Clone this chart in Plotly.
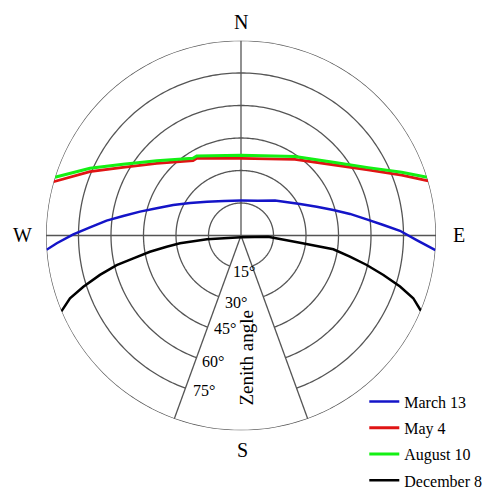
import numpy as np
import plotly.graph_objects as go

# ---- data: sun paths (azimuth deg clockwise from N, zenith angle deg) ----
mar_az = [265.8, 267.6, 270.4, 273.1, 276.3, 279.4, 283.3, 287.9, 294.2, 302.5, 314.8, 333.8,
          0.0, 26.0, 44.3, 61.9, 69.2, 74.6, 78.8, 82.7, 85.8, 88.3, 91.5, 94.3]
mar_zen = [90.0, 85.1, 77.4, 69.8, 62.4, 55.1, 47.9, 40.9, 34.3, 27.9, 22.1, 17.8,
           16.1, 17.9, 22.5, 30.9, 37.4, 44.2, 51.3, 58.5, 65.9, 73.4, 81.1, 90.0]

may_az = [286.0, 292.9, 300.0, 310.6, 327.3, 330.2, 0.0, 35.3, 53.1, 62.7, 69.4, 73.7]
may_zen = [90.0, 75.7, 62.9, 51.2, 41.0, 41.1, 35.6, 43.1, 54.2, 66.0, 79.2, 90.0]

aug_az = [287.4, 294.0, 301.1, 311.6, 328.1, 330.9, 0.0, 34.4, 52.2, 61.9, 68.5, 72.6]
aug_zen = [90.0, 76.3, 63.6, 52.0, 42.0, 42.0, 37.0, 44.2, 54.9, 66.5, 79.7, 90.0]

dec_az = [247.1, 249.8, 252.0, 254.4, 256.6, 258.0, 259.9, 261.4, 262.7, 263.6, 180.0,
          92.5, 97.0, 98.5, 101.0, 103.2, 105.5, 107.8, 110.0, 112.7]
dec_zen = [90.0, 84.1, 76.5, 67.6, 59.0, 50.8, 42.7, 34.7, 28.4, 15.8, 0.8,
           12.5, 27.4, 43.1, 51.2, 59.6, 68.2, 77.1, 84.6, 90.0]

series_names = ["March 13", "May 4", "August 10", "December 8"]
series_colors = ["#1414c8", "#e01414", "#14f014", "#000000"]

ring_zeniths = [15, 30, 45, 60, 75]
ring_labels = ["15°", "30°", "45°", "60°", "75°"]
directions = ["N", "S", "W", "E"]
wedge_half = 20  # degrees either side of south left open for labels

GRID = "#555555"
FONT = "Liberation Serif, Times New Roman, serif"

fig = go.Figure()

# zenith rings, cut inside the southern label wedge
arc = np.arange(180 + wedge_half, 540 - wedge_half + 0.5, 1.0)
for z in ring_zeniths:
    fig.add_trace(go.Scatterpolar(r=[z] * len(arc), theta=arc, mode="lines",
                                  line=dict(color=GRID, width=1.3),
                                  showlegend=False, hoverinfo="skip"))
# horizon circle
full = np.arange(0, 361, 1.0)
fig.add_trace(go.Scatterpolar(r=[90] * len(full), theta=full, mode="lines",
                              line=dict(color=GRID, width=1.3),
                              showlegend=False, hoverinfo="skip"))
# N spoke, W-E diameter, wedge edges
fig.add_trace(go.Scatterpolar(r=[0, 90], theta=[0, 0], mode="lines",
                              line=dict(color=GRID, width=1.3), showlegend=False, hoverinfo="skip"))
fig.add_trace(go.Scatterpolar(r=[90, 0, 90], theta=[270, 0, 90], mode="lines",
                              line=dict(color=GRID, width=1.3), showlegend=False, hoverinfo="skip"))
for t in (180 - wedge_half, 180 + wedge_half):
    fig.add_trace(go.Scatterpolar(r=[0, 90], theta=[t, t], mode="lines",
                                  line=dict(color=GRID, width=1.3), showlegend=False, hoverinfo="skip"))

# sun paths
for name, col, az, zen, w in zip(series_names, series_colors,
                                 [mar_az, may_az, aug_az, dec_az],
                                 [mar_zen, may_zen, aug_zen, dec_zen],
                                 [2.5, 2.8, 3.0, 2.5]):
    fig.add_trace(go.Scatterpolar(r=zen, theta=az, mode="lines", name=name,
                                  legendgroup=name,
                                  line=dict(color=col, width=w)))

W, H = 499, 492
OFF = 8          # page body margin in the browser
cx, cy, R = 241, 235.5, 195   # wanted on-screen centre / horizon radius


def px(x, y):
    return (x - OFF) / W, 1 - (y - OFF) / H


ann = []
for lab, (x, y) in zip(directions, [(241, 22), (242, 450), (22, 235), (459, 235)]):
    ax_, ay_ = px(x, y)
    ann.append(dict(text=lab, x=ax_, y=ay_, xref="paper", yref="paper", showarrow=False,
                    xanchor="center", yanchor="middle",
                    font=dict(family=FONT, size=20, color="black")))
for lab, (x, y) in zip(ring_labels, [(244, 271), (235.5, 302.5), (224.5, 328.5), (212.5, 361.5), (203.5, 390)]):
    ax_, ay_ = px(x, y)
    ann.append(dict(text=lab, x=ax_, y=ay_, xref="paper", yref="paper", showarrow=False,
                    xanchor="center", yanchor="middle",
                    font=dict(family=FONT, size=16, color="black")))
ax_, ay_ = px(246, 357.5)
ann.append(dict(text="Zenith angle", x=ax_, y=ay_, xref="paper", yref="paper", showarrow=False,
                xanchor="center", yanchor="middle",
                textangle=-90, font=dict(family=FONT, size=19, color="black")))

pcx, pcy = cx - OFF, cy - OFF
fig.update_layout(
    width=W, height=H,
    margin=dict(l=0, r=0, t=0, b=0, pad=0, autoexpand=False),
    paper_bgcolor="white", plot_bgcolor="white",
    font=dict(family=FONT, color="black"),
    polar=dict(
        domain=dict(x=[(pcx - R) / W, (pcx + R) / W], y=[1 - (pcy + R) / H, 1 - (pcy - R) / H]),
        bgcolor="white",
        radialaxis=dict(range=[0, 90], visible=False, showgrid=False),
        angularaxis=dict(rotation=90, direction="clockwise", showgrid=False, showline=False,
                         showticklabels=False, ticks=""),
    ),
    showlegend=True,
    legend=dict(x=0.714, y=0.005, xanchor="left", yanchor="bottom",
                font=dict(family=FONT, size=16, color="black"),
                bgcolor="rgba(0,0,0,0)", tracegroupgap=2.5),
    annotations=ann,
)

fig.write_html("out.html")
